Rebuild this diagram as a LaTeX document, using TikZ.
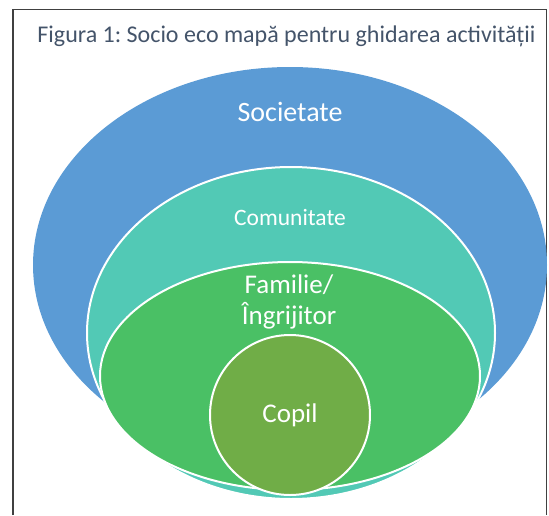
\documentclass[tikz,border=0pt]{standalone}
\usepackage{fontspec}
\setmainfont{Carlito}
\usetikzlibrary{shapes.geometric}
\frenchspacing

\definecolor{socblue}{HTML}{5B9BD5}
\definecolor{comteal}{HTML}{52C9B5}
\definecolor{famgreen}{HTML}{4AC065}
\definecolor{copolive}{HTML}{70AD47}
\definecolor{titlegray}{HTML}{44546A}

\tikzstyle{layer}=[
    ellipse,
    draw=white,
    line width=2pt,
    inner sep=0pt,
  ]
\tikzstyle{tag}=[
    text=white,
    align=center,
    anchor=base,
  ]

\begin{document}
\begin{tikzpicture}[x=1pt, y=-1pt]
      \useasboundingbox (0,0) rectangle (549,515);
      \draw[line width=1.3pt, draw=black!75] (13,515) -- (13,9.5) -- (546.5,9.5) -- (546.5,515);
      \node[text=titlegray, anchor=base, font=\fontsize{24}{28}\selectfont] (title) at (286.5,42)
        {Figura 1: Socio eco mapă pentru ghidarea activității};
      % nested circles, outer to inner
      \node[layer, draw=none, fill=socblue, minimum width=514pt, minimum height=396pt] (societate) at (290,265) {};
      \node[layer, fill=comteal, minimum width=408pt, minimum height=332pt] (comunitate) at (291,333) {};
      \node[layer, fill=famgreen, minimum width=380pt, minimum height=228pt] (familie) at (290,376) {};
      \node[layer, circle, fill=copolive, minimum size=160pt, text=white, font=\fontsize{27}{32}\selectfont] (copil) at (290,415) {Copil};
      \node[tag, font=\fontsize{28}{34}\selectfont] (tsocietate) at (290,121) {Societate};
      \node[tag, font=\fontsize{23.5}{28}\selectfont] (tcomunitate) at (290,225) {Comunitate};
      \node[tag, font=\fontsize{27}{31}\selectfont] (tfamilie) at (289,324) {Familie/\\Îngrijitor};
    \end{tikzpicture}
\end{document}
